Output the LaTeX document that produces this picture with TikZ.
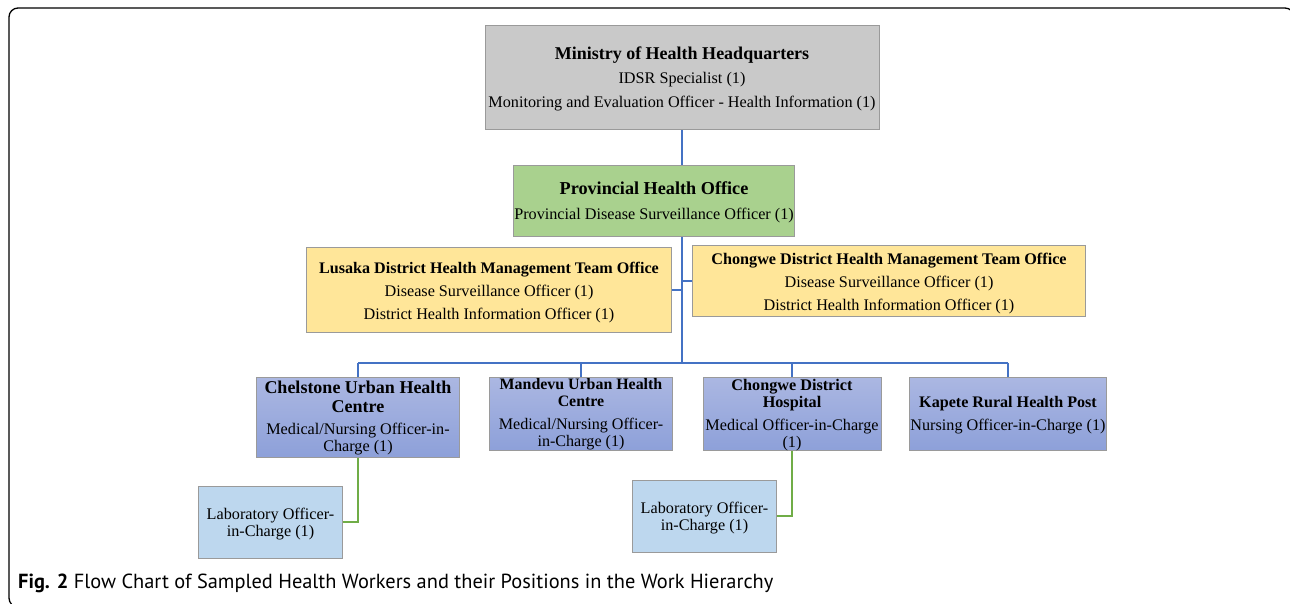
\documentclass[tikz,border=0pt]{standalone}
\usepackage{fontspec}
\setmainfont{Liberation Serif}
\newfontfamily\capfont{PT Sans}
\definecolor{mohgray}{HTML}{C9C9C9}
\definecolor{provgreen}{HTML}{A9D18E}
\definecolor{dyellow}{HTML}{FFE699}
\definecolor{hctop}{HTML}{ABB7E2}
\definecolor{hcbot}{HTML}{8DA0D9}
\definecolor{labblue}{HTML}{BDD7EE}
\definecolor{lineblue}{HTML}{4472C4}
\definecolor{linegreen}{HTML}{70AD47}
\definecolor{boxedge}{HTML}{9A9A9A}
\tikzset{
  box/.style={draw=boxedge, line width=1pt, inner sep=0pt, anchor=north west, align=center},
  bluecon/.style={draw=lineblue, line width=2pt},
  greencon/.style={draw=linegreen, line width=2pt},
  hcbox/.style={box, top color=hctop, bottom color=hcbot},
}
\newcommand{\bl}[2]{\textbf{\fontsize{#1}{#1}\selectfont #2}}
\newcommand{\up}[1]{\rule{0pt}{#1pt}}
\begin{document}
\begin{tikzpicture}[x=1pt,y=-1pt]
\useasboundingbox (0,0) rectangle (1290,603);
\begin{scope}
\clip (0,0) rectangle (1290,603);
\draw[line width=1.3pt, rounded corners=9pt] (9,8) rectangle (1294,607);
\end{scope}

% top
\node[box, fill=mohgray, minimum width=394, minimum height=104,
  font=\fontsize{16.2}{24}\selectfont] (moh) at (484.5,25)
  {\bl{18}{\up{15}Ministry of Health Headquarters}\\
   IDSR Specialist (1)\\
   Monitoring and Evaluation Officer - Health Information (1)};

\node[box, fill=provgreen, minimum width=281, minimum height=71,
  font=\fontsize{16.2}{25}\selectfont] (prov) at (513,165)
  {\bl{18.2}{\up{15}Provincial Health Office}\\
   Provincial Disease Surveillance Officer (1)};

\node[box, fill=dyellow, minimum width=365, minimum height=85,
  font=\fontsize{16.2}{23}\selectfont] (lus) at (306,247)
  {\bl{16.1}{\up{17}Lusaka District Health Management Team Office}\\
   Disease Surveillance Officer (1)\\
   District Health Information Officer (1)};

\node[box, fill=dyellow, minimum width=393, minimum height=71,
  font=\fontsize{16.2}{23}\selectfont] (chd) at (692,245)
  {\bl{16.2}{\up{16.2}Chongwe District Health Management Team Office}\\
   Disease Surveillance Officer (1)\\
   District Health Information Officer (1)};

% health facilities
\node[hcbox, minimum width=203, minimum height=80,
  font=\fontsize{16.2}{17}\selectfont] (chel) at (256,377)
  {\bl{18}{Chelstone Urban Health}\\[2pt]
   \bl{18}{Centre}\\[5pt]
   Medical/Nursing Officer-in-\\Charge (1)};

\node[hcbox, minimum width=183, minimum height=73,
  font=\fontsize{16.1}{17}\selectfont] (mand) at (489,377)
  {\bl{15.9}{Mandevu Urban Health}\\
   \bl{15.9}{Centre}\\[6pt]
   Medical/Nursing Officer-\\in-Charge (1)};

\node[hcbox, minimum width=178, minimum height=73,
  font=\fontsize{16.2}{17}\selectfont] (hosp) at (702.5,377)
  {\bl{16.2}{\up{13}Chongwe District}\\
   \bl{16.2}{Hospital}\\[6pt]
   Medical Officer-in-Charge\\(1)};

\node[hcbox, minimum width=197, minimum height=73,
  font=\fontsize{16.2}{23}\selectfont] (kap) at (909,377)
  {\bl{16.1}{\up{13.5}Kapete Rural Health Post}\\
   Nursing Officer-in-Charge (1)};

% labs
\node[box, fill=labblue, minimum width=144, minimum height=72,
  font=\fontsize{16.2}{17}\selectfont] (lab1) at (198,485.5)
  {\up{16}Laboratory Officer-\\in-Charge (1)};
\node[box, fill=labblue, minimum width=144, minimum height=72,
  font=\fontsize{16.2}{17}\selectfont] (lab2) at (632,479.5)
  {\up{16}Laboratory Officer-\\in-Charge (1)};

% connectors
\coordinate (bus) at (681.5,362.5);
\draw[bluecon] (moh.south) -- (moh.south |- prov.north);
\draw[bluecon] (prov.south -| bus) -- (bus);
\draw[bluecon] (lus.east) -- (lus.east -| bus);
\draw[bluecon] (chd.west) -- (chd.west -| bus);
\draw[bluecon] (chel.north |- bus) -- (kap.north |- bus);
\draw[bluecon] (chel.north |- bus) -- (chel.north);
\draw[bluecon] (mand.north |- bus) -- (mand.north);
\draw[bluecon] (hosp.north |- bus) -- (hosp.north);
\draw[bluecon] (kap.north |- bus) -- (kap.north);
\draw[greencon] (chel.south) |- (lab1.east);
\draw[greencon] (hosp.south) |- (lab2.east);

% caption
\node[anchor=base west, inner sep=0pt, font=\capfont\fontsize{20.4}{22}\selectfont] (cap) at (18,588)
  {\textbf{Fig. 2} Flow Chart of Sampled Health Workers and their Positions in the Work Hierarchy};
\end{tikzpicture}
\end{document}
